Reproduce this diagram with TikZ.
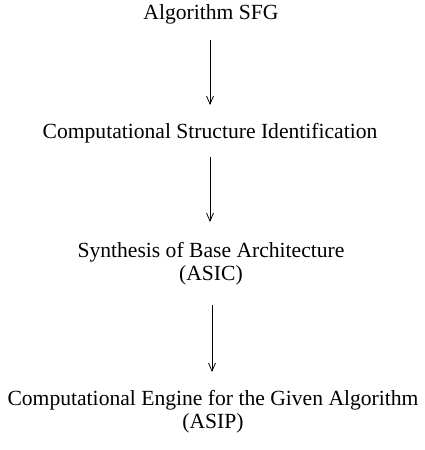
\documentclass[tikz,border=0pt]{standalone}
\usepackage{fontspec}
\setmainfont{Liberation Serif}
\usetikzlibrary{arrows.meta}
\begin{document}
\begin{tikzpicture}[x=1pt,y=-1pt,
  lbl/.style={anchor=base,inner sep=0pt,font=\fontsize{21.6}{23}\selectfont,align=center},
  flow/.style={draw,line width=0.8pt,-{Straight Barb[length=8pt,width=7pt,line width=0.8pt]}}]
\useasboundingbox (0,0) rectangle (425,450);
\node[lbl] (a) at (211,19) {Algorithm SFG};
\node[lbl] (b) at (210,138) {Computational Structure Identification};
\node[lbl] (c) at (211,280) {Synthesis of Base Architecture\\(ASIC)};
\node[lbl] (d) at (213,428) {Computational Engine for the Given Algorithm\\(ASIP)};
\coordinate (a1) at (210,40);
\coordinate (a2) at (210,105);
\coordinate (b1) at (210,157);
\coordinate (b2) at (210,222);
\coordinate (c1) at (212,305);
\coordinate (c2) at (212,372);
\draw[flow] (a1) -- (a2);
\draw[flow] (b1) -- (b2);
\draw[flow] (c1) -- (c2);
\end{tikzpicture}
\end{document}
